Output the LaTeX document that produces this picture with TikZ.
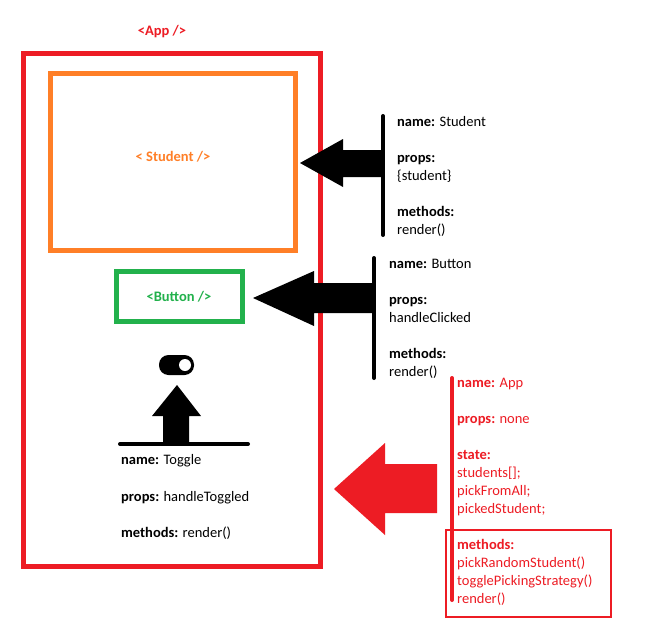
\documentclass[tikz,border=0pt]{standalone}
\usepackage{fontspec}
\setmainfont{Carlito}
\definecolor{pred}{HTML}{ED1C24}
\definecolor{porange}{HTML}{FF7F27}
\definecolor{pgreen}{HTML}{22B14C}
\begin{document}
\begin{tikzpicture}[x=1pt,y=-1pt,
  txt/.style={anchor=base west,inner sep=0pt,font=\fontsize{14.5}{18}\selectfont},
  ttl/.style={inner sep=0pt,font=\fontsize{14.5}{18}\selectfont\bfseries},
  bar/.style={line width=4pt,line cap=round},
  bigarrow/.style={draw=none}]
\useasboundingbox (0,0) rectangle (650,623);
\fill[white] (0,0) rectangle (650,623);
% App box
\draw[pred,line width=5pt] (23.5,53.5) rectangle (320,566.5);
\node[ttl,text=pred] (apptitle) at (162,32) {<App />};
% Student box
\draw[porange,line width=5pt] (50.5,73.5) rectangle (295.5,250.5);
\node[ttl,text=porange] (studtitle) at (173,157) {< Student />};
% Button box
\draw[pgreen,line width=5pt] (116.5,271.5) rectangle (242.5,321.5);
\node[ttl,text=pgreen] (buttitle) at (179,297) {<Button />};
% Student arrow + bar
\fill[black] (300,163) -- (343,139) -- (343,150) -- (382,150) -- (382,177) -- (343,177) -- (343,187) -- cycle;
\draw[bar] (383,116) -- (383,235);
\node[txt] (s1) at (397,126) {\textbf{name:} Student};
\node[txt] (s2) at (397,162) {\textbf{props:}};
\node[txt] (s3) at (397,180) {\{student\}};
\node[txt] (s4) at (397,216) {\textbf{methods:}};
\node[txt] (s5) at (397,234) {render()};
% Button arrow + bar
\fill[black] (253,298) -- (314,271) -- (314,283) -- (373,283) -- (373,313) -- (314,313) -- (314,326) -- cycle;
\draw[bar] (374,258) -- (374,378);
\node[txt] (b1) at (389,268) {\textbf{name:} Button};
\node[txt] (b2) at (389,304) {\textbf{props:}};
\node[txt] (b3) at (389,322) {handleClicked};
\node[txt] (b4) at (389,358) {\textbf{methods:}};
\node[txt] (b5) at (389,376) {render()};
% Toggle icon and arrow
\fill[black,rounded corners=9.5pt] (159,355) rectangle (194,375);
\fill[white] (185,365) circle (6);
\fill[black] (177,385) -- (201,416) -- (189,416) -- (189,444) -- (163,444) -- (163,416) -- (152,416) -- cycle;
\draw[bar] (120,444) -- (248,444);
\node[txt] (t1) at (121,464) {\textbf{name:} Toggle};
\node[txt] (t2) at (121,501) {\textbf{props:} handleToggled};
\node[txt] (t3) at (121,537) {\textbf{methods:} render()};
% Red arrow
\fill[pred] (334,489) -- (385,443) -- (385,464) -- (437,464) -- (437,513) -- (385,513) -- (385,535) -- cycle;
% App info
\draw[pred,line width=2pt] (446,530) rectangle (611,617);
\draw[bar,pred] (452,378) -- (452,600);
\begin{scope}[every node/.append style={text=pred}]
\node[txt] (a1) at (457,387) {\textbf{name:} App};
\node[txt] (a2) at (457,423) {\textbf{props:} none};
\node[txt] (a3) at (457,459) {\textbf{state:}};
\node[txt] (a4) at (457,477) {students[];};
\node[txt] (a5) at (457,495) {pickFromAll;};
\node[txt] (a6) at (457,513) {pickedStudent;};
\node[txt] (a7) at (457,549) {\textbf{methods:}};
\node[txt] (a8) at (457,567) {pickRandomStudent()};
\node[txt] (a9) at (457,585) {togglePickingStrategy()};
\node[txt] (a10) at (457,603) {render()};
\end{scope}
\end{tikzpicture}
\end{document}
